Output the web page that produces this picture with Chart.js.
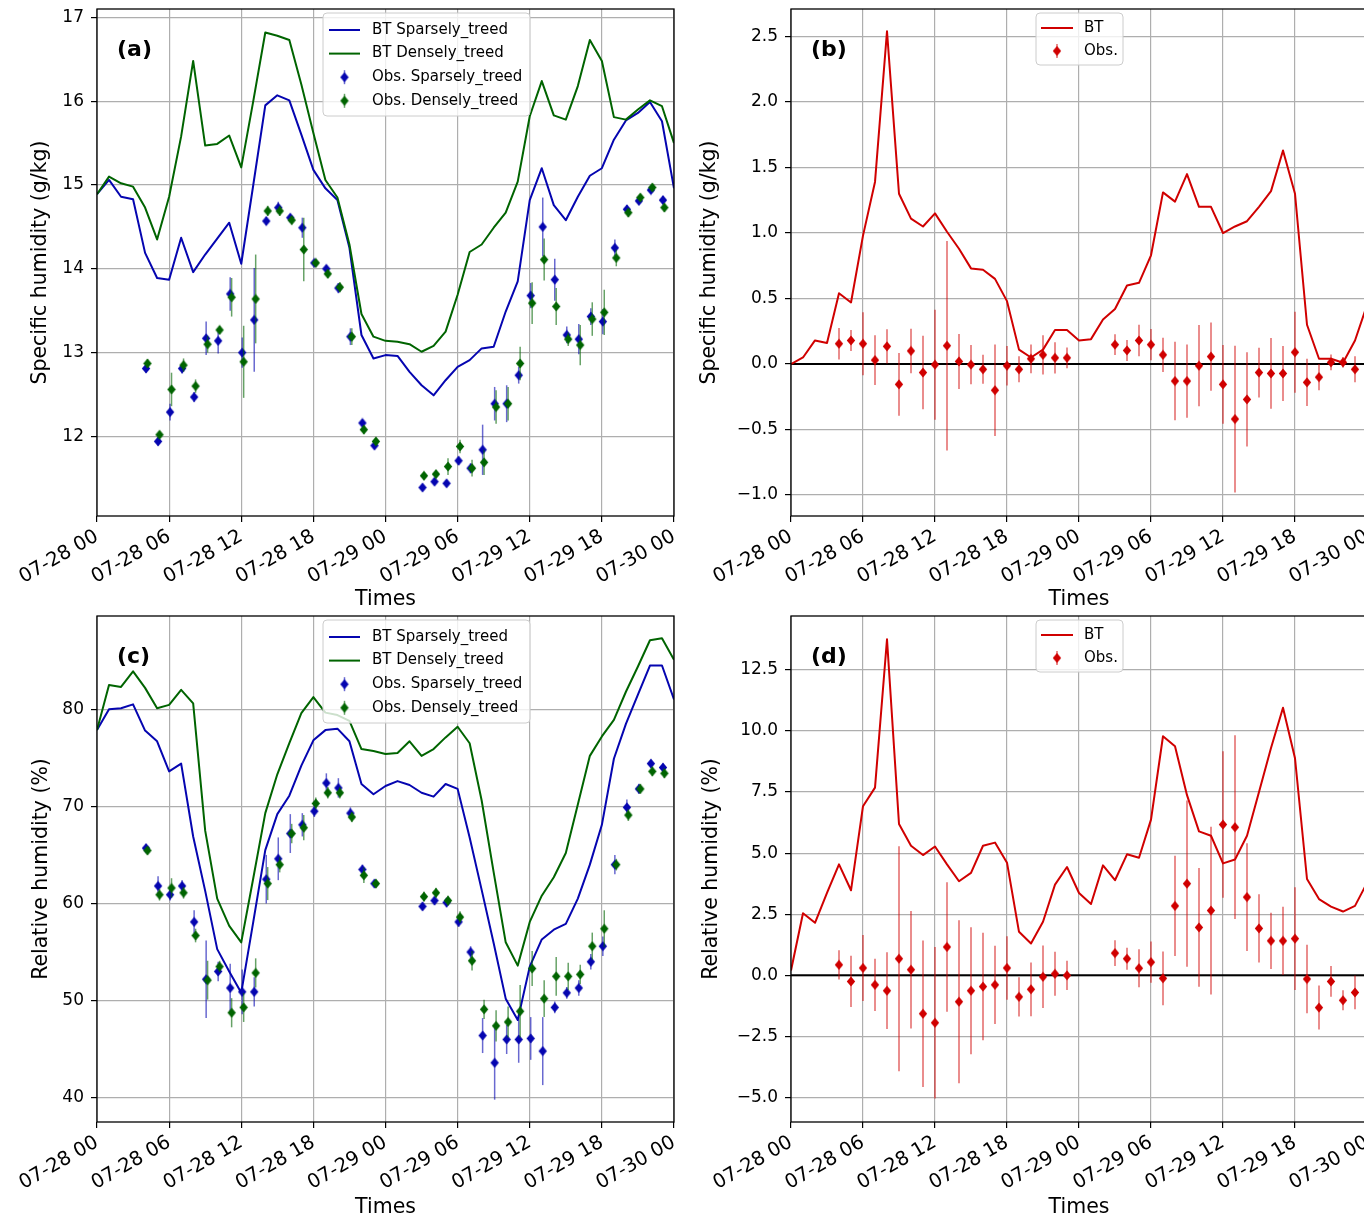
<!DOCTYPE html>
<html>
<head>
<meta charset="utf-8">
<title>Specific and relative humidity: BT simulations and observations</title>
<script src="https://cdn.jsdelivr.net/npm/chart.js@4.4.1/dist/chart.umd.min.js"></script>
<style>
  html, body { margin: 0; padding: 0; background: #ffffff; }
  body { width: 1364px; height: 1221px; overflow: hidden; position: relative; }
  canvas { position: absolute; }
</style>
</head>
<body>
<canvas id="panelA" width="690" height="612" style="left:0px;top:0px"></canvas>
<canvas id="panelB" width="690" height="612" style="left:690px;top:0px"></canvas>
<canvas id="panelC" width="690" height="609" style="left:0px;top:612px"></canvas>
<canvas id="panelD" width="690" height="609" style="left:690px;top:612px"></canvas>
<script>
// ---------- time axis ----------
const timeTickHours  = [0, 6, 12, 18, 24, 30, 36, 42, 48];
const timeTickLabels = ['07-28 00', '07-28 06', '07-28 12', '07-28 18', '07-29 00',
                        '07-29 06', '07-29 12', '07-29 18', '07-30 00'];

// hourly model output, hours since 07-28 00
const btHours = [0, 1, 2, 3, 4, 5, 6, 7, 8, 9, 10, 11, 12, 13, 14, 15, 16, 17, 18, 19, 20, 21, 22, 23, 24,
                 25, 26, 27, 28, 29, 30, 31, 32, 33, 34, 35, 36, 37, 38, 39, 40, 41, 42, 43, 44, 45, 46, 47, 48];
// observation hours
const obsHours = [4, 5, 6, 7, 8, 9, 10, 11, 12, 13, 14, 15, 16, 17, 18, 19, 20, 21, 22, 23,
                  27, 28, 29, 30, 31, 32, 33, 34, 35, 36, 37, 38, 39, 40, 41, 42, 43, 44, 45, 46, 47];

// ---------- (a) specific humidity, g/kg ----------
const qBtSparse = [14.89, 15.06, 14.86, 14.83, 14.19, 13.89, 13.87, 14.37, 13.96, 14.17, 14.36, 14.55, 14.06,
                   15.00, 15.95, 16.07, 16.01, 15.60, 15.18, 14.96, 14.82, 14.25, 13.21, 12.93, 12.97,
                   12.96, 12.77, 12.61, 12.49, 12.67, 12.83, 12.91, 13.05, 13.07, 13.49, 13.85, 14.82,
                   15.20, 14.76, 14.58, 14.86, 15.11, 15.20, 15.54, 15.77, 15.86, 15.99, 15.76, 14.96];
const qBtDense  = [14.89, 15.10, 15.02, 14.98, 14.73, 14.35, 14.86, 15.58, 16.48, 15.47, 15.49, 15.59, 15.21,
                   16.00, 16.82, 16.78, 16.73, 16.20, 15.62, 15.06, 14.85, 14.29, 13.46, 13.19, 13.14,
                   13.13, 13.10, 13.01, 13.08, 13.25, 13.69, 14.20, 14.29, 14.49, 14.67, 15.04, 15.82,
                   16.24, 15.83, 15.78, 16.18, 16.73, 16.48, 15.81, 15.78, 15.90, 16.01, 15.94, 15.50];
const qObsSparse    = [12.81, 11.94, 12.29, 12.81, 12.47, 13.17, 13.14, 13.70, 13.00, 13.39, 14.57, 14.73, 14.61,
                       14.49, 14.07, 14.00, 13.77, 13.19, 12.16, 11.89,
                       11.39, 11.46, 11.44, 11.71, 11.62, 11.84, 12.39, 12.39, 12.73, 13.68, 14.50, 13.87,
                       13.21, 13.16, 13.43, 13.37, 14.25, 14.71, 14.81, 14.94, 14.82];
const qObsSparseErr = [0.05, 0.05, 0.10, 0.06, 0.06, 0.20, 0.15, 0.20, 0.18, 0.62, 0.05, 0.07, 0.04,
                       0.12, 0.03, 0.04, 0.06, 0.10, 0.04, 0.04,
                       0.03, 0.04, 0.04, 0.05, 0.06, 0.30, 0.20, 0.22, 0.10, 0.15, 0.35, 0.25,
                       0.10, 0.18, 0.10, 0.15, 0.10, 0.05, 0.04, 0.04, 0.05];
const qObsDense     = [12.87, 12.02, 12.56, 12.85, 12.60, 13.10, 13.27, 13.66, 12.89, 13.64, 14.69, 14.69, 14.58,
                       14.23, 14.07, 13.94, 13.78, 13.19, 12.08, 11.94,
                       11.53, 11.55, 11.64, 11.88, 11.62, 11.69, 12.35, 12.39, 12.87, 13.59, 14.11, 13.55,
                       13.16, 13.09, 13.40, 13.48, 14.13, 14.67, 14.85, 14.97, 14.73];
const qObsDenseErr  = [0.05, 0.04, 0.20, 0.08, 0.08, 0.10, 0.05, 0.23, 0.43, 0.53, 0.06, 0.06, 0.05,
                       0.38, 0.04, 0.05, 0.06, 0.10, 0.05, 0.04,
                       0.04, 0.04, 0.10, 0.08, 0.10, 0.15, 0.20, 0.20, 0.20, 0.25, 0.25, 0.22,
                       0.08, 0.24, 0.20, 0.27, 0.10, 0.05, 0.04, 0.04, 0.05];

// ---------- (b) specific humidity difference, g/kg ----------
const qBtDiff  = [0.00, 0.05, 0.18, 0.16, 0.54, 0.47, 0.98, 1.39, 2.54, 1.30, 1.11, 1.05, 1.15, 1.01, 0.88,
                  0.73, 0.72, 0.65, 0.48, 0.11, 0.05, 0.11, 0.26, 0.26, 0.18, 0.19, 0.34, 0.42, 0.60,
                  0.62, 0.83, 1.31, 1.24, 1.45, 1.20, 1.20, 1.00, 1.05, 1.09, 1.20, 1.32, 1.63, 1.30,
                  0.30, 0.04, 0.04, 0.01, 0.18, 0.45];
const qObsDiff    = [0.155, 0.18, 0.155, 0.03, 0.135, -0.155, 0.10, -0.065, -0.005, 0.14, 0.02, -0.005, -0.04,
                     -0.20, -0.013, -0.04, 0.04, 0.07, 0.047, 0.047,
                     0.148, 0.104, 0.18, 0.148, 0.07, -0.13, -0.13, -0.013, 0.057, -0.155, -0.42, -0.27,
                     -0.065, -0.072, -0.072, 0.09, -0.14, -0.10, 0.013, 0.013, -0.04];
const qObsDiffErr = [0.12, 0.08, 0.24, 0.19, 0.13, 0.24, 0.17, 0.28, 0.42, 0.80, 0.21, 0.15, 0.11,
                     0.35, 0.15, 0.10, 0.11, 0.15, 0.12, 0.08,
                     0.08, 0.08, 0.12, 0.12, 0.13, 0.30, 0.28, 0.31, 0.26, 0.30, 0.56, 0.36,
                     0.19, 0.27, 0.21, 0.31, 0.18, 0.10, 0.06, 0.04, 0.10];

// ---------- (c) relative humidity, % ----------
const rhBtSparse = [77.85, 80.0, 80.1, 80.5, 77.8, 76.7, 73.6, 74.4, 66.9, 61.3, 55.3, 53.0, 50.8, 58.1, 65.5,
                    69.2, 71.1, 74.2, 76.8, 77.85, 78.0, 76.7, 72.3, 71.25, 72.1, 72.6, 72.2, 71.4, 71.0,
                    72.3, 71.8, 66.8, 61.4, 55.9, 50.2, 48.0, 53.5, 56.3, 57.3, 57.9, 60.5, 64.0, 68.1,
                    74.9, 78.5, 81.5, 84.5, 84.5, 81.0];
const rhBtDense  = [77.85, 82.5, 82.3, 83.9, 82.2, 80.1, 80.45, 82.0, 80.6, 67.5, 60.5, 57.7, 56.0, 62.6, 69.3,
                    73.3, 76.5, 79.6, 81.25, 79.65, 79.4, 78.8, 75.9, 75.7, 75.4, 75.5, 76.7, 75.2, 75.9,
                    77.1, 78.2, 76.5, 70.6, 63.2, 56.0, 53.6, 58.1, 60.8, 62.7, 65.2, 70.2, 75.2, 77.2,
                    78.9, 81.8, 84.4, 87.1, 87.3, 85.1];
const rhObsSparse    = [65.7, 61.8, 60.9, 61.8, 58.1, 52.2, 53.0, 51.3, 50.9, 50.9, 62.5, 64.6, 67.2,
                        68.1, 69.5, 72.4, 71.9, 69.3, 63.5, 62.05,
                        59.7, 60.3, 60.1, 58.1, 55.0, 46.4, 43.6, 46.0, 46.0, 46.1, 44.8, 49.3,
                        50.8, 51.3, 54.0, 55.6, 64.0, 69.9, 71.8, 74.4, 74.0];
const rhObsSparseErr = [0.4, 1.0, 0.6, 0.6, 1.2, 4.0, 1.0, 2.5, 2.3, 1.5, 2.5, 2.2, 2.0,
                        1.2, 0.6, 1.0, 1.0, 0.6, 0.5, 0.4,
                        0.4, 0.4, 0.5, 0.5, 0.6, 1.8, 3.8, 1.5, 2.4, 2.2, 3.5, 0.6,
                        0.6, 0.8, 0.8, 1.0, 1.0, 0.8, 0.5, 0.4, 0.4];
const rhObsDense     = [65.45, 60.9, 61.6, 61.1, 56.7, 52.1, 53.5, 48.75, 49.3, 52.85, 62.05, 64.0, 67.2,
                        67.8, 70.3, 71.4, 71.4, 68.9, 62.9, 62.05,
                        60.7, 61.1, 60.3, 58.6, 54.1, 49.1, 47.4, 47.8, 48.9, 53.3, 50.2, 52.5,
                        52.5, 52.7, 55.6, 57.4, 64.0, 69.1, 71.8, 73.6, 73.4];
const rhObsDenseErr  = [0.4, 0.6, 1.0, 0.6, 0.7, 2.0, 0.6, 1.5, 1.5, 1.5, 1.7, 0.8, 1.0,
                        1.3, 0.6, 0.6, 0.6, 0.5, 0.8, 0.4,
                        0.5, 0.5, 0.5, 0.6, 1.0, 1.0, 1.6, 1.6, 2.7, 1.8, 1.9, 2.0,
                        1.4, 1.0, 1.4, 1.9, 0.6, 0.6, 0.5, 0.5, 0.5];

// ---------- (d) relative humidity difference, % ----------
const rhBtDiff  = [0.20, 2.54, 2.15, 3.37, 4.54, 3.48, 6.92, 7.68, 13.75, 6.19, 5.30, 4.92, 5.27, 4.54, 3.85,
                   4.19, 5.30, 5.43, 4.61, 1.78, 1.30, 2.19, 3.71, 4.43, 3.37, 2.92, 4.50, 3.89, 4.95,
                   4.81, 6.37, 9.78, 9.37, 7.37, 5.89, 5.71, 4.58, 4.74, 5.71, 7.50, 9.30, 10.95, 8.88,
                   3.94, 3.12, 2.81, 2.61, 2.84, 3.78];
const rhObsDiff    = [0.43, -0.25, 0.30, -0.39, -0.63, 0.68, 0.23, -1.57, -1.94, 1.16, -1.08, -0.63, -0.46,
                      -0.39, 0.30, -0.88, -0.57, -0.06, 0.06, 0.00,
                      0.91, 0.68, 0.29, 0.54, -0.12, 2.84, 3.75, 1.96, 2.65, 6.17, 6.06, 3.20,
                      1.92, 1.41, 1.41, 1.50, -0.15, -1.32, -0.25, -1.02, -0.70];
const rhObsDiffErr = [0.60, 1.05, 1.35, 1.07, 1.57, 4.60, 2.40, 3.00, 3.10, 2.65, 3.33, 2.60, 2.20,
                      1.60, 1.30, 0.80, 1.10, 1.28, 0.90, 0.60,
                      0.53, 0.45, 0.78, 0.84, 1.10, 2.05, 3.40, 2.43, 3.43, 3.00, 3.76, 2.20,
                      1.40, 1.15, 1.40, 2.10, 1.40, 0.90, 0.63, 0.41, 0.69];

// ---------- y-axis ticks ----------
const qTicks      = [12, 13, 14, 15, 16, 17];
const qDiffTicks  = [-1.0, -0.5, 0.0, 0.5, 1.0, 1.5, 2.0, 2.5];
const rhTicks     = [40, 50, 60, 70, 80];
const rhDiffTicks = [-5.0, -2.5, 0.0, 2.5, 5.0, 7.5, 10.0, 12.5];

// ---------- styling ----------
const FONT  = "'DejaVu Sans', 'Liberation Sans', Arial, sans-serif";
const GRID  = '#aeaeae';
const BLUE  = '#0505b0';
const GREEN = '#006400';
const RED   = '#d00000';
const SPARSE_DODGE = 0.08;   // small horizontal dodge so both observation sets stay visible
const DENSE_DODGE  = 0.20;

function rgba(hex, a) {
  const n = parseInt(hex.slice(1), 16);
  return `rgba(${(n >> 16) & 255},${(n >> 8) & 255},${n & 255},${a})`;
}

// diamond marker
function diamond(color) {
  const c = document.createElement('canvas');
  c.width = 10; c.height = 11;
  const g = c.getContext('2d');
  g.fillStyle = color;
  g.beginPath();
  g.moveTo(5, 0.4); g.lineTo(9.2, 5.5); g.lineTo(5, 10.6); g.lineTo(0.8, 5.5);
  g.closePath(); g.fill();
  return c;
}

function lineSet(label, ys, color, order) {
  return {
    label, order,
    data: btHours.map((h, i) => ({ x: h, y: ys[i] })),
    showLine: true, tension: 0,
    borderColor: color, backgroundColor: color, borderWidth: 2,
    borderJoinStyle: 'round', pointRadius: 0, pointHoverRadius: 0
  };
}

function obsSet(label, ys, errs, color, dodge, order) {
  return {
    label, order,
    data: obsHours.map((h, i) => ({ x: h + dodge, y: ys[i] })),
    errors: errs, errorColor: rgba(color, 0.6), markerColor: color,
    showLine: false, pointStyle: diamond(color), pointRadius: 4, pointHoverRadius: 4
  };
}

// error bars, zero line, frame, panel tag and legend
const humidityDecor = {
  id: 'humidityDecor',
  beforeDatasetsDraw(chart, args, opts) {
    if (!opts.zeroLine) return;
    const { ctx, chartArea: a, scales: { y } } = chart;
    const py = y.getPixelForValue(0);
    ctx.save();
    ctx.strokeStyle = '#000'; ctx.lineWidth = 2;
    ctx.beginPath(); ctx.moveTo(a.left, py); ctx.lineTo(a.right, py); ctx.stroke();
    ctx.restore();
  },
  beforeDatasetDraw(chart, args) {
    const ds = chart.data.datasets[args.index];
    if (!ds.errors) return;
    const { ctx, chartArea: a, scales: { y } } = chart;
    ctx.save();
    ctx.beginPath(); ctx.rect(a.left, a.top, a.right - a.left, a.bottom - a.top); ctx.clip();
    ctx.strokeStyle = ds.errorColor; ctx.lineWidth = 1.5;
    args.meta.data.forEach((pt, i) => {
      const v = ds.data[i].y, e = ds.errors[i];
      ctx.beginPath();
      ctx.moveTo(pt.x, y.getPixelForValue(v - e));
      ctx.lineTo(pt.x, y.getPixelForValue(v + e));
      ctx.stroke();
    });
    ctx.restore();
  },
  afterDatasetsDraw(chart, args, opts) {
    const { ctx, chartArea: a } = chart;
    ctx.save();
    // axes frame
    ctx.strokeStyle = '#000'; ctx.lineWidth = 1.3;
    ctx.strokeRect(a.left, a.top, a.right - a.left, a.bottom - a.top);
    // panel tag
    ctx.fillStyle = '#000';
    ctx.font = `bold 22px ${FONT}`;
    ctx.textAlign = 'left'; ctx.textBaseline = 'middle';
    ctx.fillText(opts.tag, a.left + 20, a.top + 41);
    // legend
    const L = opts.legend;
    const bx = a.left + L.x, by = a.top + L.y;
    ctx.beginPath();
    if (ctx.roundRect) ctx.roundRect(bx, by, L.w, L.h, 4); else ctx.rect(bx, by, L.w, L.h);
    ctx.fillStyle = 'rgba(255,255,255,0.8)'; ctx.fill();
    ctx.strokeStyle = '#cccccc'; ctx.lineWidth = 1; ctx.stroke();
    ctx.font = `15px ${FONT}`;
    chart.data.datasets.forEach((ds, i) => {
      const ry = by + L.first + i * L.step;
      const hx0 = bx + L.handle[0], hx1 = bx + L.handle[1], hc = (hx0 + hx1) / 2;
      if (ds.showLine) {
        ctx.strokeStyle = ds.borderColor; ctx.lineWidth = 2;
        ctx.beginPath(); ctx.moveTo(hx0, ry); ctx.lineTo(hx1, ry); ctx.stroke();
      } else {
        ctx.strokeStyle = ds.errorColor; ctx.lineWidth = 1.5;
        ctx.beginPath(); ctx.moveTo(hc, ry - 7); ctx.lineTo(hc, ry + 7); ctx.stroke();
        const m = ds.pointStyle;
        ctx.drawImage(m, hc - m.width / 2, ry - m.height / 2);
      }
      ctx.fillStyle = '#000';
      ctx.fillText(ds.label, bx + L.textX, ry);
    });
    ctx.restore();
  }
};

function buildChart(id, cfg) {
  const fmt = v => v.toFixed(cfg.decimals).replace('-', '\u2212');
  return new Chart(document.getElementById(id), {
    type: 'scatter',
    data: { datasets: cfg.datasets },
    options: {
      responsive: false,
      animation: false,
      events: [],
      layout: { padding: cfg.padding, autoPadding: false },
      plugins: {
        legend: { display: false },
        tooltip: { enabled: false },
        humidityDecor: { tag: cfg.tag, legend: cfg.legend, zeroLine: cfg.zeroLine }
      },
      scales: {
        x: {
          type: 'linear', min: 0, max: 48,
          afterBuildTicks: s => { s.ticks = timeTickHours.map(v => ({ value: v })); },
          afterFit: s => {
            s.height = cfg.xHeight;
            s.paddingLeft = 0; s.paddingRight = 0; s.paddingTop = 0; s.paddingBottom = 0;
          },
          border: { display: false },
          grid: { color: GRID, lineWidth: 1.2, tickColor: '#000', tickLength: 6, tickWidth: 1.2 },
          ticks: {
            autoSkip: false, maxRotation: 30, minRotation: 30, padding: 3, color: '#000',
            font: { family: FONT, size: 19.5 },
            callback: (v, i) => timeTickLabels[i]
          },
          title: {
            display: true, text: 'Times', color: '#000',
            font: { family: FONT, size: 20.5 }, padding: { top: 0, bottom: cfg.xTitlePad }
          }
        },
        y: {
          type: 'linear', min: cfg.yMin, max: cfg.yMax,
          afterBuildTicks: s => { s.ticks = cfg.yTicks.map(v => ({ value: v })); },
          afterFit: s => {
            s.width = cfg.yWidth;
            s.paddingLeft = 0; s.paddingRight = 0; s.paddingTop = 0; s.paddingBottom = 0;
          },
          border: { display: false },
          grid: { color: GRID, lineWidth: 1.2, tickColor: '#000', tickLength: 6, tickWidth: 1.2 },
          ticks: {
            padding: 7, color: '#000', font: { family: FONT, size: 17 },
            callback: v => fmt(v)
          },
          title: {
            display: true, text: cfg.yTitle, color: '#000',
            font: { family: FONT, size: 20.5 }, padding: { top: cfg.yTitlePad, bottom: 0 }
          }
        }
      }
    },
    plugins: [humidityDecor]
  });
}

const legendFour = { x: 226, y: 4, w: 207, h: 103, first: 17, step: 23.6, handle: [6, 37], textX: 49 };
const legendTwo  = { x: 245, y: 4, w: 87, h: 52, first: 15, step: 23, handle: [5, 37], textX: 48 };

buildChart('panelA', {
  tag: '(a)', padding: { left: 0, top: 9, right: 16, bottom: 0 },
  yWidth: 97, xHeight: 96, yTitlePad: 28.7, xTitlePad: 0,
  yMin: 11.05, yMax: 17.1, yTicks: qTicks, decimals: 0,
  yTitle: 'Specific humidity (g/kg)', legend: legendFour, zeroLine: false,
  datasets: [
    lineSet('BT Sparsely_treed', qBtSparse, BLUE, 4),
    lineSet('BT Densely_treed', qBtDense, GREEN, 3),
    obsSet('Obs. Sparsely_treed', qObsSparse, qObsSparseErr, BLUE, SPARSE_DODGE, 2),
    obsSet('Obs. Densely_treed', qObsDense, qObsDenseErr, GREEN, DENSE_DODGE, 1)
  ]
});

buildChart('panelB', {
  tag: '(b)', padding: { left: 0, top: 9, right: 13, bottom: 0 },
  yWidth: 101, xHeight: 96, yTitlePad: 7.2, xTitlePad: 0,
  yMin: -1.16, yMax: 2.71, yTicks: qDiffTicks, decimals: 1,
  yTitle: 'Specific humidity (g/kg)', legend: legendTwo, zeroLine: true,
  datasets: [
    lineSet('BT', qBtDiff, RED, 2),
    obsSet('Obs.', qObsDiff, qObsDiffErr, RED, 0, 1)
  ]
});

buildChart('panelC', {
  tag: '(c)', padding: { left: 0, top: 4, right: 16, bottom: 0 },
  yWidth: 97, xHeight: 99, yTitlePad: 29.7, xTitlePad: 0.7,
  yMin: 37.5, yMax: 89.6, yTicks: rhTicks, decimals: 0,
  yTitle: 'Relative humidity (%)', legend: legendFour, zeroLine: false,
  datasets: [
    lineSet('BT Sparsely_treed', rhBtSparse, BLUE, 4),
    lineSet('BT Densely_treed', rhBtDense, GREEN, 3),
    obsSet('Obs. Sparsely_treed', rhObsSparse, rhObsSparseErr, BLUE, SPARSE_DODGE, 2),
    obsSet('Obs. Densely_treed', rhObsDense, rhObsDenseErr, GREEN, DENSE_DODGE, 1)
  ]
});

buildChart('panelD', {
  tag: '(d)', padding: { left: 0, top: 4, right: 13, bottom: 0 },
  yWidth: 101, xHeight: 99, yTitlePad: 9.7, xTitlePad: 0.7,
  yMin: -6.0, yMax: 14.7, yTicks: rhDiffTicks, decimals: 1,
  yTitle: 'Relative humidity (%)', legend: legendTwo, zeroLine: true,
  datasets: [
    lineSet('BT', rhBtDiff, RED, 2),
    obsSet('Obs.', rhObsDiff, rhObsDiffErr, RED, 0, 1)
  ]
});
</script>
</body>
</html>
